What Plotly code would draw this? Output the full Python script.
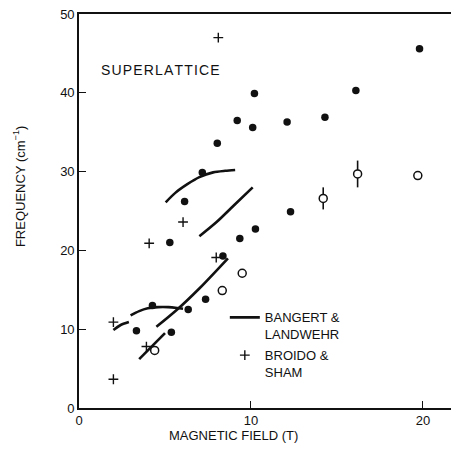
import plotly.graph_objects as go

# Measured magneto-optical frequencies (filled circles)
filled_x = [6.14, 7.17, 8.04, 9.2, 10.1, 10.2, 12.1, 14.3, 16.1, 19.8,
            5.28, 9.35, 10.26, 12.3, 8.37, 7.36, 6.35, 4.27, 3.34, 5.37]
filled_y = [26.2, 29.9, 33.6, 36.5, 35.6, 39.9, 36.3, 36.9, 40.3, 45.6,
            21.0, 21.5, 22.7, 24.9, 19.3, 13.8, 12.5, 13.0, 9.8, 9.6]

# Open circles, two of them with uncertainty bars
open_x = [4.4, 8.33, 9.49, 14.2, 16.2, 19.7]
open_y = [7.3, 14.9, 17.1, 26.6, 29.7, 29.5]
open_err = [0, 0, 0, 1.4, 1.7, 0]

# Broido & Sham calculation
broido_x = [8.1, 6.05, 4.08, 7.98, 2.0, 3.92, 2.0]
broido_y = [47.0, 23.6, 20.9, 19.1, 10.9, 7.8, 3.65]

# Bangert & Landwehr curves
curve_a_x = [5.04, 5.6, 6.3, 7.0, 7.8, 8.5, 9.08]
curve_a_y = [26.1, 27.3, 28.4, 29.3, 29.9, 30.1, 30.2]
curve_b_x = [7.0, 8.0, 9.0, 10.1]
curve_b_y = [21.8, 23.6, 25.7, 28.0]
curve_c_x = [4.5, 5.66, 7.01, 8.66]
curve_c_y = [10.3, 12.4, 15.2, 19.0]
curve_d_x = [3.0, 3.5, 4.0, 4.6, 5.2, 5.7, 6.05]
curve_d_y = [11.75, 12.3, 12.65, 12.8, 12.8, 12.7, 12.6]
curve_e_x = [2.0, 2.4, 2.9]
curve_e_y = [9.9, 10.5, 10.9]
curve_f_x = [3.5, 5.0]
curve_f_y = [6.2, 9.5]

x_ticks = [0, 10, 20]
y_ticks = [0, 10, 20, 30, 40, 50]

FONT = "Liberation Sans, Arial, sans-serif"
INK = "#111111"

fig = go.Figure()

curves = [(curve_a_x, curve_a_y), (curve_b_x, curve_b_y), (curve_c_x, curve_c_y),
          (curve_d_x, curve_d_y), (curve_e_x, curve_e_y), (curve_f_x, curve_f_y)]
for i, (cx, cy) in enumerate(curves):
    fig.add_trace(go.Scatter(
        x=cx, y=cy, mode="lines",
        line=dict(color=INK, width=2.6, shape="spline", smoothing=0.8),
        name="BANGERT &amp;<br>LANDWEHR", legendgroup="bl",
        showlegend=(i == 0),
    ))

fig.add_trace(go.Scatter(
    x=filled_x, y=filled_y, mode="markers",
    marker=dict(symbol="circle", size=7.5, color=INK),
    showlegend=False,
))

fig.add_trace(go.Scatter(
    x=open_x, y=open_y, mode="markers",
    marker=dict(symbol="circle", size=8, color="white",
                line=dict(color=INK, width=1.5)),
    error_y=dict(type="data", array=open_err, visible=True,
                 color=INK, thickness=1.6, width=0),
    showlegend=False,
))

fig.add_trace(go.Scatter(
    x=broido_x, y=broido_y, mode="markers",
    marker=dict(symbol="cross-thin", size=7, color=INK,
                line=dict(color=INK, width=1.4)),
    name="BROIDO &amp;<br>SHAM",
))

fig.add_annotation(
    x=0.054, y=0.858, xref="paper", yref="paper",
    text="S U P E R L A T T I C E".replace(" ", "\u200a"),
    showarrow=False, xanchor="left", yanchor="middle",
    font=dict(family=FONT, size=14, color=INK),
)
fig.add_annotation(
    x=0.414, y=-0.069, xref="paper", yref="paper",
    text="MAGNETIC FIELD (T)", showarrow=False,
    xanchor="center", yanchor="middle",
    font=dict(family=FONT, size=13, color=INK),
)
fig.add_annotation(
    x=-0.161, y=0.561, xref="paper", yref="paper",
    text="FREQUENCY (cm<sup>−1</sup>)", showarrow=False, textangle=-90,
    xanchor="center", yanchor="middle",
    font=dict(family=FONT, size=13, color=INK),
)

fig.update_layout(
    width=451, height=462,
    margin=dict(l=79, r=0, t=14, b=54),
    paper_bgcolor="white", plot_bgcolor="white",
    font=dict(family=FONT, size=13, color=INK),
    showlegend=True,
    legend=dict(
        x=0.392, y=0.268, xanchor="left", yanchor="top",
        bgcolor="rgba(0,0,0,0)", font=dict(family=FONT, size=13, color=INK),
        valign="top", itemwidth=30, tracegroupgap=1,
    ),
    xaxis=dict(
        range=[0, 21.63], tickvals=x_ticks, ticks="inside", ticklen=7,
        tickwidth=1.3, tickcolor=INK, showline=True, linecolor=INK,
        linewidth=1.6, mirror=True, showgrid=False, zeroline=False,
        tickfont=dict(family=FONT, size=13, color=INK),
    ),
    yaxis=dict(
        range=[0, 50], tickvals=y_ticks, ticks="inside", ticklen=7,
        tickwidth=1.3, tickcolor=INK, showline=True, linecolor=INK,
        linewidth=1.6, showgrid=False, zeroline=False,
        tickfont=dict(family=FONT, size=13, color=INK),
    ),
)

fig.write_html("out.html", config={"displayModeBar": False})
